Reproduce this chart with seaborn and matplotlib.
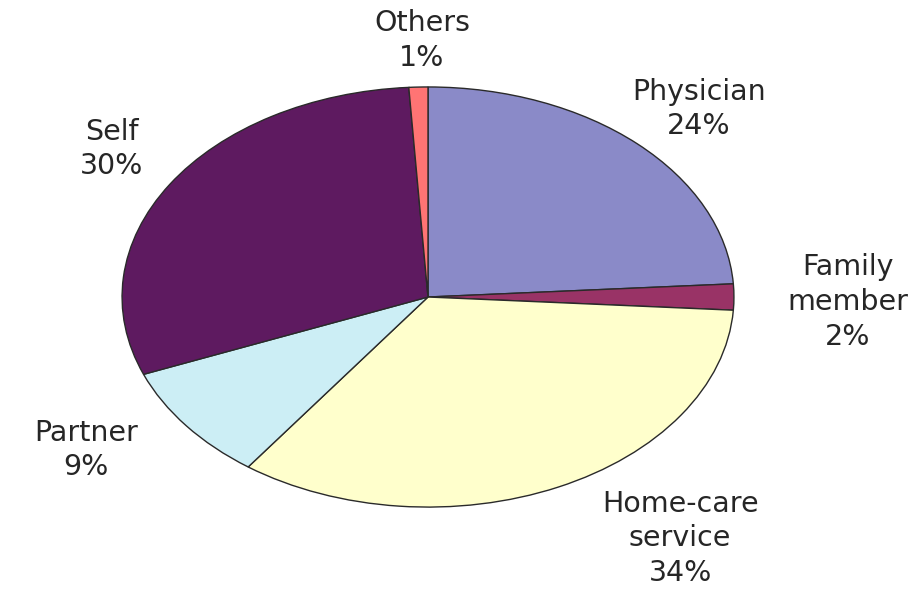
import matplotlib
matplotlib.use("Agg")
import matplotlib.pyplot as plt
import seaborn as sns

# Data
categories = ["Physician", "Family\nmember", "Home-care\nservice", "Partner", "Self", "Others"]
shares = [24, 2, 34, 9, 30, 1]

# Style
slice_colors = ["#8A8AC8", "#993366", "#FFFFCC", "#CCEEF5", "#5E1A60", "#FF7474"]
# label anchor positions (data units, pie radius = 1, drawn as an ellipse)
label_pos = [(0.886, 0.895), (1.373, -0.024), (0.824, -1.148),
             (-1.118, -0.729), (-1.033, 0.705), (-0.02, 1.22)]

sns.set_theme(style="white")
plt.rcParams["font.family"] = ["DejaVu Sans"]

fig = plt.figure(figsize=(9.23, 5.89), dpi=100)
ax = fig.add_axes([0, 0, 1, 1])
palette = sns.color_palette(slice_colors)

ax.pie(shares, colors=palette, startangle=90, counterclock=False,
       wedgeprops=dict(edgecolor="#2a2a2a", linewidth=1.0))
ax.set_aspect("auto")
ax.set_xlim(-1.399, 1.618)
ax.set_ylim(-1.390, 1.414)
ax.axis("off")

for name, val, (x, y) in zip(categories, shares, label_pos):
    ax.text(x, y, f"{name}\n{val}%", ha="center", va="center",
            fontsize=20.5, color="#262626", linespacing=1.3)

fig.savefig("out.png", dpi=100, facecolor="white")
